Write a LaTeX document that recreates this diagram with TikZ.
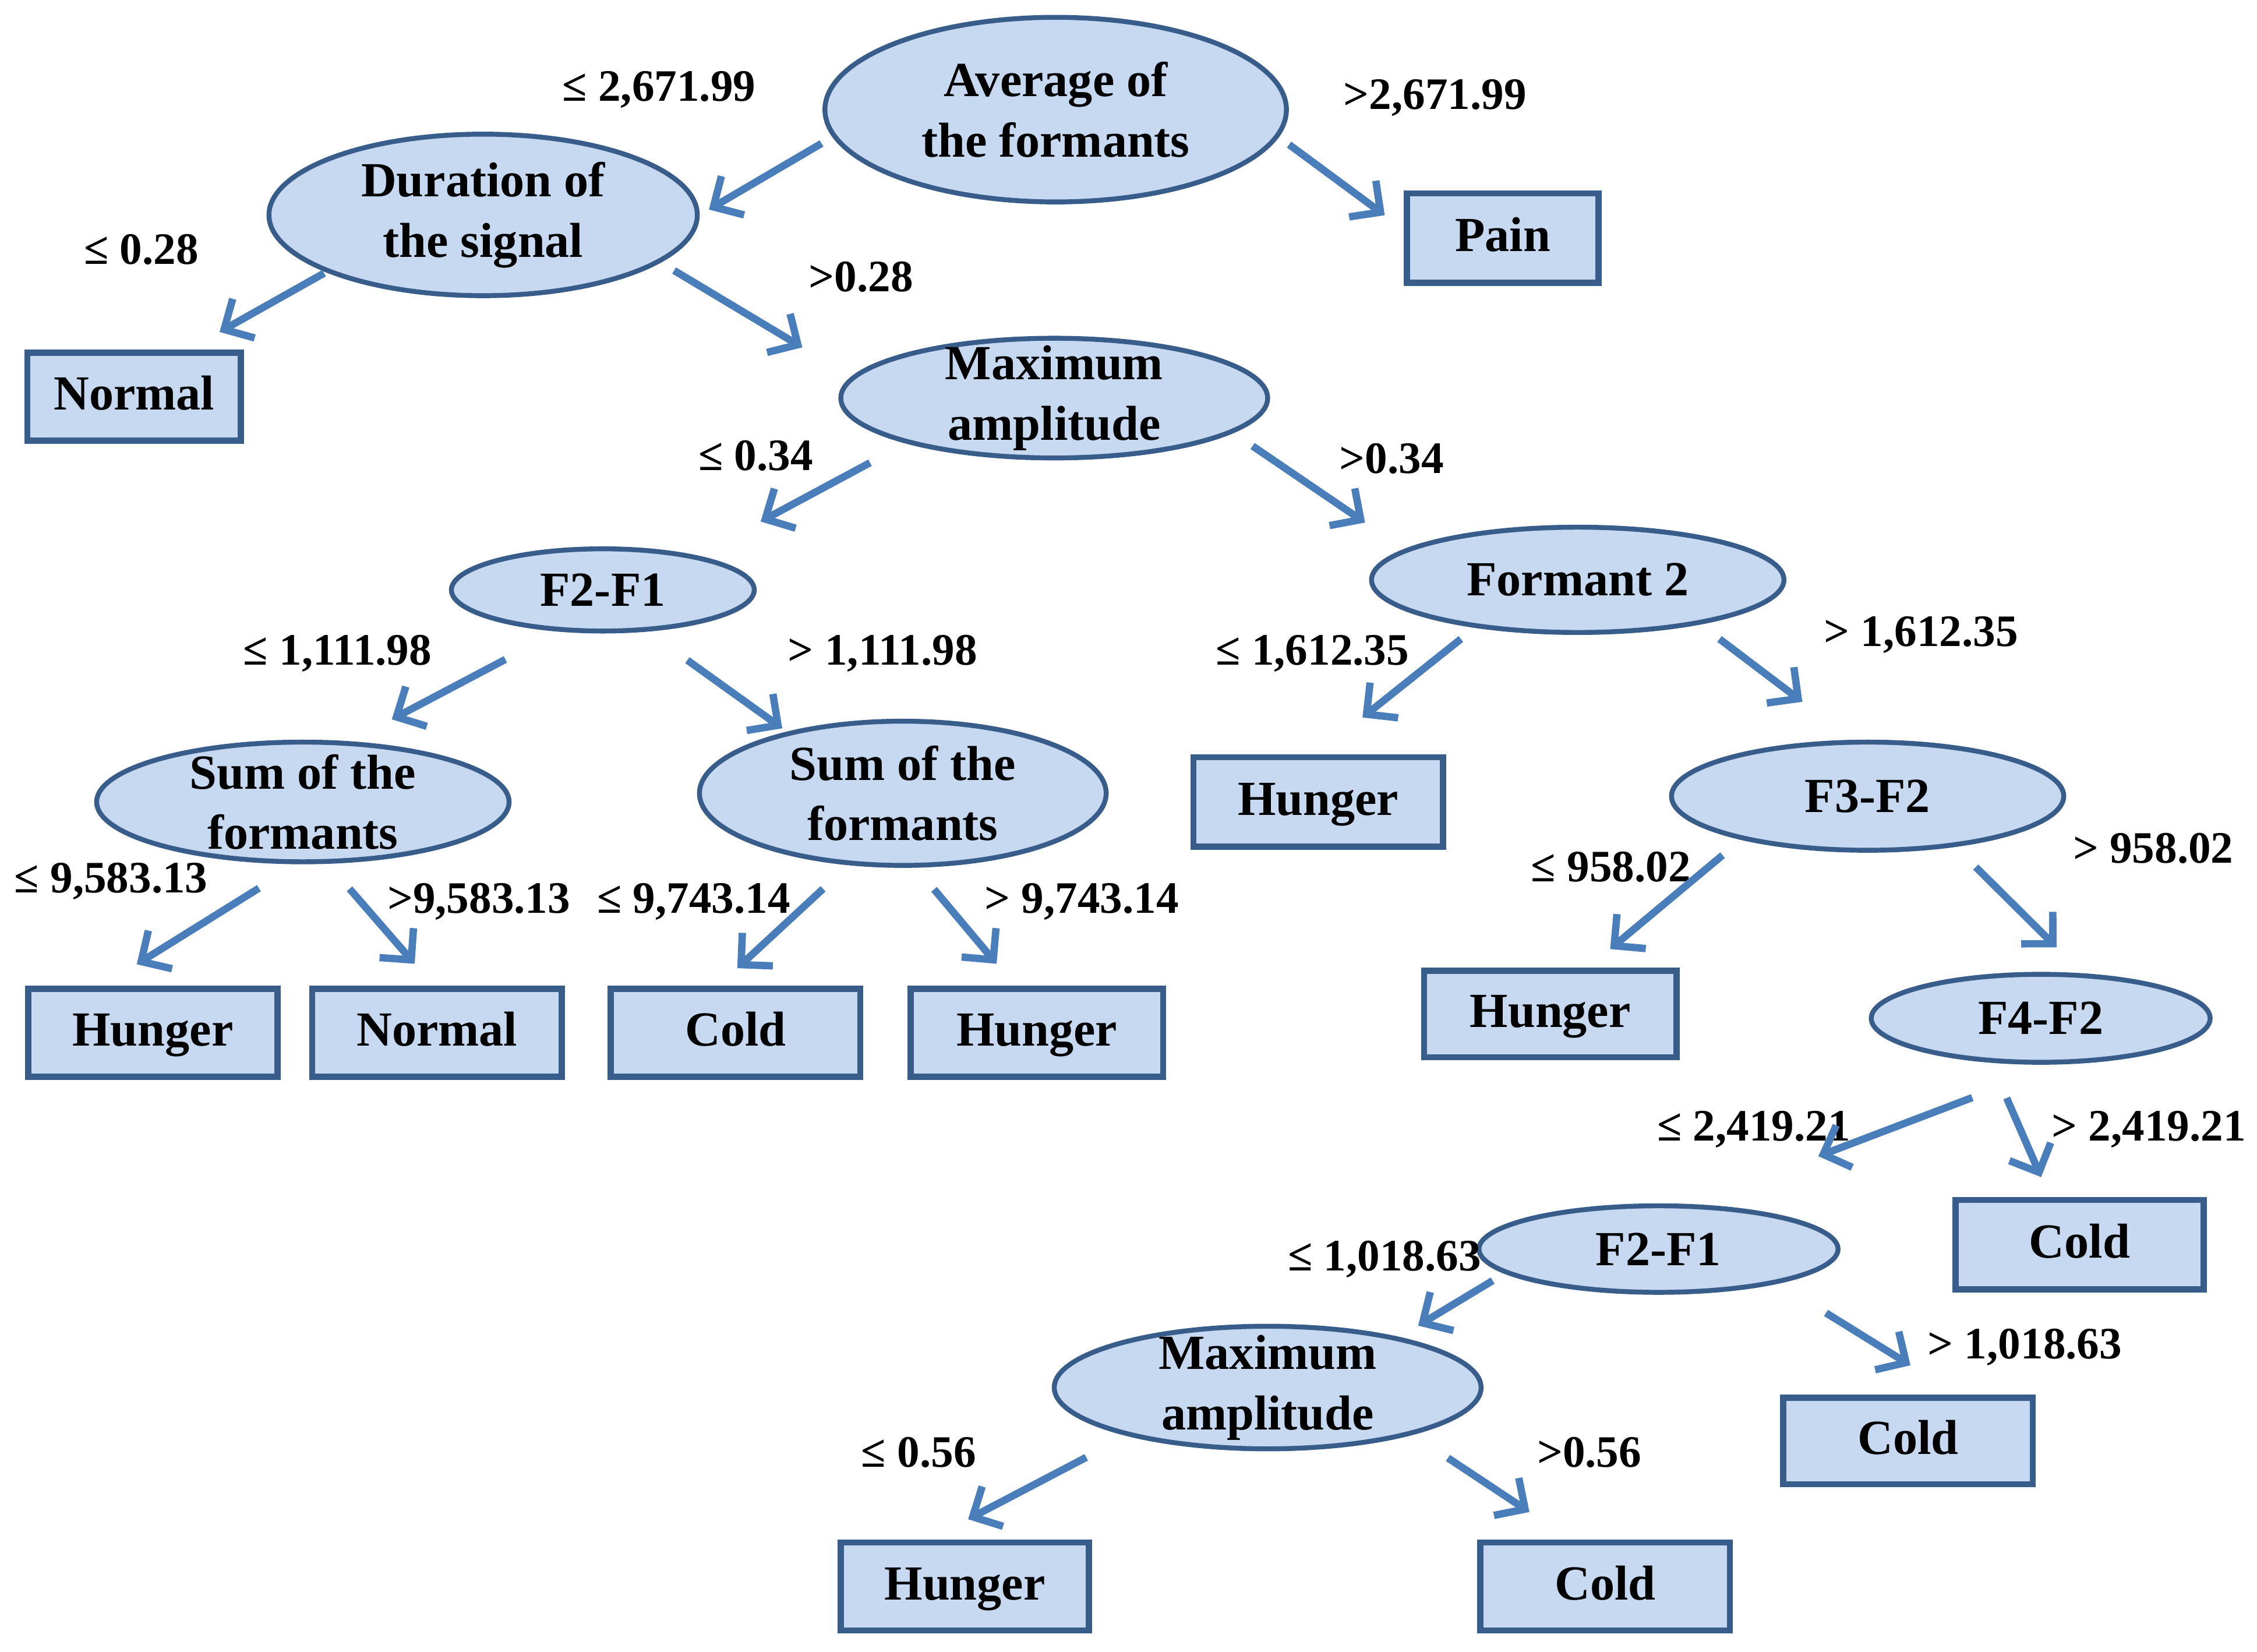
\documentclass[tikz,border=0pt]{standalone}
\usepackage{fontspec}
\setmainfont{Liberation Serif}
\usetikzlibrary{shapes.geometric, arrows.meta}
\definecolor{boxfill}{HTML}{C6D9F1}
\definecolor{boxedge}{HTML}{385D8A}
\definecolor{arrowblue}{HTML}{4A7EBB}
\tikzset{
  feature/.style 2 args={ellipse, draw=boxedge, line width=1.2pt, fill=boxfill, inner sep=0pt,
                minimum width=#1*0.0124cm, minimum height=#2*0.0124cm},
  ftext/.style={align=center, font=\fontsize{12}{14.8}\selectfont\bfseries, inner sep=0pt},
  leaf/.style 2 args={rectangle, draw=boxedge, line width=1.5pt, fill=boxfill, inner sep=0pt,
                minimum width=#1*0.0124cm, minimum height=#2*0.0124cm, text height=0.9em, text depth=0.25em,
                font=\fontsize{12}{14}\selectfont\bfseries},
  cond/.style={font=\fontsize{11}{12}\selectfont\bfseries, inner sep=0pt},
  arrow/.style={draw=arrowblue, line width=1.8pt, -{Straight Barb[length=5.5pt,width=11pt]}}
}
\begin{document}
\begin{tikzpicture}[x=0.0124cm, y=-0.0124cm]
\useasboundingbox (0,0) rectangle (1565,1145);

% features
\node (avg) [feature={320}{128}, label={[ftext]center:{Average of\\the formants}}] at (732,76) {};
\node (dur) [feature={297}{112}, label={[ftext]center:{Duration of\\the signal}}] at (335,149) {};
\node (maxa) [feature={296}{83}, label={[ftext]center:{Maximum\\amplitude}}] at (731,276) {};
\node (ff1) [feature={210}{57}, label={[ftext]center:{F2-F1}}] at (418,409) {};
\node (form2) [feature={286}{73}, label={[ftext]center:{Formant 2}}] at (1094,402) {};
\node (suml) [feature={286}{83}, label={[ftext]center:{Sum of the\\formants}}] at (210,556) {};
\node (sumr) [feature={282}{100}, label={[ftext]center:{Sum of the\\formants}}] at (626,550) {};
\node (ff32) [feature={272}{75}, label={[ftext]center:{F3-F2}}] at (1295,552) {};
\node (ff42) [feature={235}{61}, label={[ftext]center:{F4-F2}}] at (1415,706) {};
\node (ff1b) [feature={249}{60}, label={[ftext]center:{F2-F1}}] at (1150,866) {};
\node (maxb) [feature={296}{85}, label={[ftext]center:{Maximum\\amplitude}}] at (879,962) {};

% classes
\node (pain) [leaf={133}{62}] at (1042,165) {Pain};
\node (normal1) [leaf={148}{61}] at (93,275) {Normal};
\node (hunger1) [leaf={173}{62}] at (914,556) {Hunger};
\node (hunger2) [leaf={173}{61}] at (106,716) {Hunger};
\node (normal2) [leaf={173}{61}] at (303,716) {Normal};
\node (cold1) [leaf={173}{61}] at (510,716) {Cold};
\node (hunger3) [leaf={175}{61}] at (719,716) {Hunger};
\node (hunger4) [leaf={175}{60}] at (1075,703) {Hunger};
\node (cold2) [leaf={172}{62}] at (1442,863) {Cold};
\node (cold3) [leaf={173}{60}] at (1323,999) {Cold};
\node (hunger5) [leaf={172}{61}] at (669,1100) {Hunger};
\node (cold4) [leaf={173}{61}] at (1113,1100) {Cold};

% thresholds
\node (c1) [cond] at (457,62) {≤ 2,671.99};
\node (c2) [cond] at (995,68) {>2,671.99};
\node (c3) [cond] at (98,173) {≤ 0.28};
\node (c4) [cond] at (597,192) {>0.28};
\node (c5) [cond] at (524,316) {≤ 0.34};
\node (c6) [cond] at (965,318) {>0.34};
\node (c7) [cond] at (234,453) {≤ 1,111.98};
\node (c8) [cond] at (612,453) {> 1,111.98};
\node (c9) [cond] at (910,453) {≤ 1,612.35};
\node (c10) [cond] at (1332,440) {> 1,612.35};
\node (c11) [cond] at (77,611) {≤ 9,583.13};
\node (c12) [cond] at (332,625) {>9,583.13};
\node (c13) [cond] at (481,625) {≤ 9,743.14};
\node (c14) [cond] at (750,625) {> 9,743.14};
\node (c15) [cond] at (1117,601) {≤ 958.02};
\node (c16) [cond] at (1493,588) {> 958.02};
\node (c17) [cond] at (1216,783) {≤ 2,419.21};
\node (c18) [cond] at (1490,783) {> 2,419.21};
\node (c19) [cond] at (960,873) {≤ 1,018.63};
\node (c20) [cond] at (1404,934) {> 1,018.63};
\node (c21) [cond] at (637,1007) {≤ 0.56};
\node (c22) [cond] at (1102,1007) {>0.56};

% branches
\draw [arrow, shorten <=3.1pt, shorten >=2.6pt] (avg.187) -- (dur.0);
\draw [arrow, shorten <=3.1pt, shorten >=5.8pt] (avg.353) -- (pain.175);
\draw [arrow, shorten <=0.5pt, shorten >=8.8pt] (dur.200) -- (normal1.41);
\draw [arrow, shorten <=3.8pt, shorten >=14pt] (dur.345) -- (maxa.174.5);
\draw [arrow, shorten <=10pt, shorten >=17.6pt] (maxa.197) -- (ff1.20);
\draw [arrow, shorten <=5.7pt, shorten >=11.6pt] (maxa.349.5) -- (form2.170);
\draw [arrow, shorten <=14.6pt, shorten >=11.5pt] (ff1.223) -- (suml.52.5);
\draw [arrow, shorten <=12pt, shorten >=1.4pt] (ff1.317) -- (sumr.152);
\draw [arrow, shorten <=4.4pt, shorten >=14.4pt] (form2.205) -- (hunger1.92);
\draw [arrow, shorten <=5.9pt, shorten >=15.4pt] (form2.340) -- (ff32.105);
\draw [arrow, shorten <=11.1pt, shorten >=9.9pt] (suml.265) -- (hunger2.137);
\draw [arrow, shorten <=8.1pt, shorten >=7.1pt] (suml.292.5) -- (normal2.94);
\draw [arrow, shorten <=8.5pt, shorten >=6.3pt] (sumr.233) -- (cold1.110);
\draw [arrow, shorten <=6.9pt, shorten >=7pt] (sumr.280) -- (hunger3.115);
\draw [arrow, shorten <=5.9pt, shorten >=7.1pt] (ff32.199) -- (hunger4.51);
\draw [arrow, shorten <=7pt, shorten >=9pt] (ff32.330) -- (ff42.47);
\draw [arrow, shorten <=22.8pt, shorten >=33pt] (ff42.292) -- (ff1b.53);
\draw [arrow, shorten <=9.4pt, shorten >=5.3pt] (ff42.222) -- (cold2.122);
\draw [arrow, shorten <=3.4pt, shorten >=5.4pt] (ff1b.189) -- (maxb.21);
\draw [arrow, shorten <=13.7pt, shorten >=13.6pt] (ff1b.344) -- (cold3.43.5);
\draw [arrow, shorten <=11.3pt, shorten >=10.7pt] (maxb.199) -- (hunger5.127);
\draw [arrow, shorten <=10.3pt, shorten >=12.2pt] (maxb.342.5) -- (cold4.126);

\end{tikzpicture}
\end{document}
